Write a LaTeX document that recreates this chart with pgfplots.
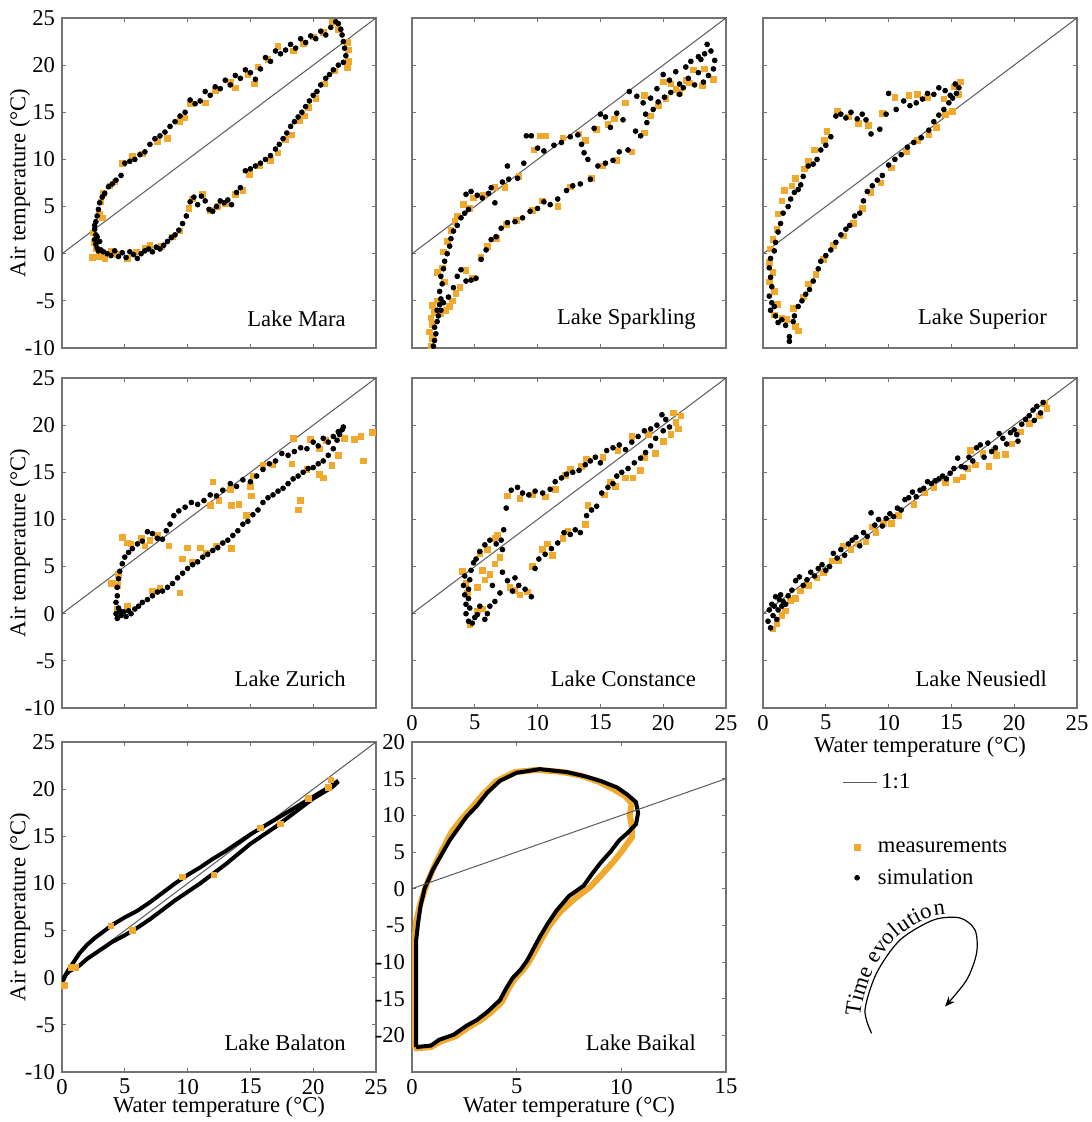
\documentclass[border=0pt]{standalone}
\usepackage{fontspec}
\setmainfont{Liberation Serif}
\usepackage{pgfplots}
\pgfplotsset{compat=1.18}
\usetikzlibrary{decorations.text, arrows.meta}
\definecolor{morange}{RGB}{240,168,45}
\definecolor{axgray}{RGB}{115,115,115}
\definecolor{linegray}{RGB}{90,90,90}
\newcommand{\fs}{\fontsize{11.3}{13.5}\selectfont}
\pgfplotsset{
 panel/.style={scale only axis, width=157pt, height=165pt, anchor=south west,
  xmin=0,xmax=25,ymin=-10,ymax=25, xtick={0,5,...,25}, ytick={-10,-5,...,25},
  tick align=inside, major tick length=2.2pt,
  axis line style={axgray, line width=0.6pt},
  every tick/.style={axgray, line width=0.5pt},
  /pgf/number format/assume math mode=true,
  tick label style={font=\fs},
  ylabel={Air temperature (°C)}, xlabel={Water temperature (°C)},
  every axis y label/.style={at={(axis description cs:-0.134,0.5)}, rotate=90, anchor=center, font=\fs},
  every axis x label/.style={at={(axis description cs:0.5,-0.106)}, anchor=center, font=\fs},
 },
 noX/.style={xticklabels={,,}, xlabel={}},
 noY/.style={yticklabels={,,}, ylabel={}},
 meas/.style={only marks, mark=square*, mark size=1.4pt, color=morange, forget plot},
 sim/.style={only marks, mark=*, mark size=1.2pt, color=black, forget plot},
 oneone/.style={linegray, line width=0.5pt, forget plot},
}
\newcommand{\lake}[1]{\node[anchor=east, font=\fs, inner sep=0pt] at (rel axis cs:0.905,0.088) {#1};}
\begin{document}
\begin{tikzpicture}[x=1pt,y=1pt]
% ---------------- Lake Mara
\begin{axis}[panel, noX, at={(31pt,387pt)}]
\addplot[meas] coordinates {(2.4,-0.4)(2.7,0.5)(3.0,-0.3)(3.4,-0.5)(3.9,0.3)(4.4,-0.1)(5.2,-0.5)(5.9,0.2)(6.6,0.6)(7.0,0.9)(7.9,0.8)(8.8,1.8)(9.4,2.4)(10.1,4.8)(10.4,5.8)(11.2,6.3)(11.8,4.6)(12.4,5.0)(13.0,5.3)(13.8,6.3)(14.4,6.7)(14.9,8.4)(15.7,9.3)(16.6,9.9)(17.2,10.7)(17.8,12.1)(18.3,12.6)(18.9,14.1)(19.3,14.6)(19.6,15.5)(20.2,16.5)(20.9,18.0)(21.7,19.4)(22.7,19.7)(22.8,20.4)(22.8,21.6)(22.7,22.4)(22.0,23.8)(21.5,24.5)(20.8,23.5)(20.0,23.0)(19.2,22.3)(18.4,21.5)(17.2,22.0)(16.4,20.6)(15.6,19.8)(14.8,19.0)(15.3,18.0)(13.8,17.6)(13.4,18.2)(12.2,17.3)(11.4,16.0)(10.2,15.9)(9.8,14.4)(9.4,14.0)(8.4,12.2)(7.6,11.9)(6.4,10.6)(5.6,10.3)(4.8,9.6)(4.2,7.6)(3.8,7.2)(3.3,6.4)(3.1,5.5)(3.2,3.8)(3.0,4.2)(2.5,2.2)(2.6,1.2)};
\addplot[sim] coordinates {(2.6,2.6)(2.7,2.0)(2.6,1.5)(2.7,1.0)(2.8,0.6)(2.9,0.3)(3.0,1.3)(2.8,1.8)(3.1,0.4)(3.3,0.2)(3.6,0.0)(3.9,-0.2)(4.2,0.3)(4.5,-0.3)(4.8,0.1)(5.1,-0.4)(5.4,0.2)(5.7,-0.1)(6.0,-0.5)(6.3,0.0)(6.6,0.3)(6.9,0.5)(7.2,0.2)(7.5,0.7)(7.8,0.5)(8.1,0.9)(8.4,1.3)(8.7,1.7)(9.0,2.0)(9.3,2.5)(9.6,3.2)(9.9,4.0)(10.2,5.5)(10.5,6.0)(10.8,5.2)(11.1,6.1)(11.4,5.6)(11.7,4.7)(12.0,4.5)(12.3,5.0)(12.6,5.6)(12.9,5.4)(13.2,5.7)(13.5,5.2)(13.9,6.5)(14.2,7.0)(14.6,8.8)(15.0,9.0)(15.4,9.3)(15.8,9.6)(16.2,10.0)(16.6,10.4)(17.0,11.1)(17.3,11.6)(17.6,12.2)(17.9,12.8)(18.2,13.5)(18.5,14.0)(18.8,14.5)(19.1,15.0)(19.4,15.6)(19.7,16.2)(20.0,16.8)(20.3,17.2)(20.6,17.9)(21.0,18.6)(21.3,19.0)(21.6,19.5)(22.0,20.0)(22.4,20.3)(22.6,21.0)(22.5,21.8)(22.4,22.5)(22.3,23.2)(22.2,23.8)(22.0,24.4)(21.8,24.6)(21.4,24.0)(21.0,23.2)(20.6,23.6)(20.2,22.8)(19.8,23.1)(19.4,22.4)(19.0,22.8)(18.6,21.8)(18.2,22.2)(17.8,21.6)(17.4,21.2)(17.0,21.5)(16.6,20.4)(16.2,20.8)(15.8,19.6)(15.4,18.5)(15.0,19.2)(14.6,19.5)(14.2,18.6)(13.8,18.9)(13.4,17.9)(13.0,18.4)(12.6,17.5)(12.2,17.7)(11.8,16.8)(11.4,17.2)(11.0,16.2)(10.6,15.9)(10.2,16.3)(9.8,15.0)(9.4,14.6)(9.0,14.0)(8.6,13.5)(8.2,12.9)(7.8,12.5)(7.4,12.2)(7.0,11.6)(6.6,10.8)(6.2,10.5)(5.8,10.0)(5.4,9.8)(5.0,9.6)(4.7,8.3)(4.3,7.8)(4.0,7.4)(3.7,7.1)(3.4,6.4)(3.2,6.0)(3.0,5.4)(2.9,4.7)(2.8,4.0)(2.7,3.4)(2.6,3.0)};
\addplot[oneone] coordinates {(0,0)(25,25)};
\lake{Lake Mara}
\end{axis}
% ---------------- Lake Sparkling
\begin{axis}[panel, noX, noY, at={(206pt,387pt)}]
\addplot[meas] coordinates {(1.5,-9.8)(1.6,-9.0)(1.4,-8.3)(1.6,-7.5)(1.5,-6.8)(1.8,-6.2)(1.6,-5.5)(2.0,-5.0)(2.3,-6.4)(2.7,-6.0)(3.0,-5.6)(3.2,-5.0)(3.5,-4.2)(3.8,-3.6)(4.3,-1.8)(4.8,-2.6)(5.5,-0.4)(6.0,0.8)(6.7,1.6)(7.5,3.1)(8.3,3.5)(9.6,4.6)(10.4,5.6)(11.6,5.0)(12.6,7.1)(14.3,8.0)(15.2,9.3)(16.3,9.9)(17.5,10.8)(18.5,12.8)(19.0,14.6)(19.6,15.7)(20.2,16.5)(20.6,18.0)(21.3,17.1)(21.8,18.4)(22.4,19.5)(23.3,19.6)(24.0,18.5)(23.1,17.8)(22.1,18.1)(21.0,17.4)(20.0,18.2)(18.5,16.8)(17.0,16.0)(16.1,14.3)(15.6,13.7)(14.7,13.2)(13.8,12.0)(13.3,12.7)(12.0,12.3)(10.6,12.5)(10.2,12.5)(9.7,11.0)(8.5,8.2)(7.4,7.0)(6.6,7.0)(5.7,6.2)(4.9,5.9)(4.6,4.8)(4.1,5.2)(3.6,4.0)(3.4,3.4)(3.1,2.5)(2.8,1.3)(2.5,0.2)(2.4,-1.5)(2.6,-3.0)(2.0,-2.0)};
\addplot[sim] coordinates {(1.7,-9.8)(1.8,-9.2)(1.9,-8.5)(1.8,-7.8)(2.0,-7.2)(2.1,-6.6)(2.0,-6.0)(2.2,-5.4)(2.3,-4.8)(2.2,-4.0)(2.4,-3.2)(2.3,-2.4)(2.5,-1.6)(2.6,-0.8)(2.8,0.0)(3.0,0.8)(3.1,1.6)(3.3,2.4)(3.6,3.0)(3.9,3.8)(4.2,4.3)(4.5,4.7)(4.3,6.3)(4.7,6.6)(5.2,6.2)(5.6,5.9)(6.1,6.4)(6.6,5.4)(6.3,7.0)(7.2,7.6)(7.7,7.9)(7.6,9.3)(8.4,8.0)(8.9,9.6)(9.1,12.5)(9.5,12.5)(10.0,11.2)(10.5,10.9)(11.3,11.5)(11.9,11.8)(12.6,12.4)(13.2,12.6)(13.5,11.6)(13.7,10.7)(14.0,10.0)(14.5,13.3)(15.0,14.8)(15.4,14.5)(15.8,13.4)(16.3,14.9)(16.8,14.2)(17.3,17.2)(17.9,16.7)(18.4,16.0)(19.0,16.5)(19.5,17.5)(20.0,19.0)(20.5,18.4)(21.0,19.3)(21.3,18.0)(21.8,19.8)(22.2,20.4)(22.5,17.9)(22.8,19.2)(23.0,20.6)(23.3,21.2)(23.5,22.2)(23.8,21.5)(24.1,20.5)(24.0,19.6)(23.6,18.9)(23.2,18.2)(22.8,20.9)(22.0,18.6)(21.6,17.6)(21.3,16.9)(20.6,17.1)(20.1,16.6)(19.6,16.1)(19.2,15.3)(18.6,14.8)(18.2,12.5)(18.7,13.9)(17.8,13.0)(17.2,11.0)(16.5,10.8)(16.0,9.9)(15.4,9.6)(14.8,9.3)(14.2,7.9)(13.4,7.4)(12.8,7.2)(12.3,6.7)(11.6,5.8)(11.0,5.2)(10.5,5.5)(10.0,4.8)(9.4,4.5)(8.8,3.8)(8.2,3.4)(7.6,3.3)(7.1,2.7)(6.7,1.8)(6.3,1.5)(5.9,0.4)(5.5,-0.6)(5.1,-2.6)(4.7,-2.8)(4.3,-2.9)(3.9,-1.7)(3.6,-2.4)(3.3,-3.6)(2.9,-4.6)(2.5,-5.2)(2.3,-6.0)};
\addplot[oneone] coordinates {(0,0)(25,25)};
\lake{Lake Sparkling}
\end{axis}
% ---------------- Lake Superior
\begin{axis}[panel, noX, noY, at={(381.5pt,387pt)}]
\addplot[meas] coordinates {(0.5,-0.9)(0.8,-2.0)(0.5,-3.0)(0.9,-4.0)(1.2,-5.4)(0.9,-6.5)(1.5,-6.8)(1.9,-7.0)(2.6,-7.7)(2.8,-8.2)(2.4,-5.8)(3.2,-4.6)(3.6,-3.2)(4.2,-2.2)(4.8,-0.6)(5.6,0.9)(6.4,1.9)(7.2,3.2)(7.9,4.8)(8.6,6.5)(9.4,7.5)(10.2,9.1)(11.4,10.8)(12.3,12.0)(13.2,12.6)(13.8,13.4)(14.5,14.8)(15.1,15.1)(15.6,16.9)(15.7,18.2)(15.2,17.7)(14.4,16.4)(13.1,16.6)(12.3,16.9)(11.6,16.8)(10.5,16.6)(9.5,14.9)(8.4,13.6)(7.6,13.8)(6.8,14.5)(5.9,15.1)(5.1,13.0)(4.9,12.0)(4.1,11.0)(3.6,9.8)(3.3,9.0)(2.6,8.0)(2.3,7.2)(1.7,6.7)(1.5,5.6)(1.2,4.2)(1.1,2.6)(0.8,1.5)(0.6,0.5)};
\addplot[sim] coordinates {(0.6,-0.5)(0.5,-1.5)(0.6,-2.5)(0.7,-3.5)(0.5,-4.5)(0.7,-5.2)(0.6,-6.0)(0.9,-5.6)(1.0,-6.6)(1.2,-7.3)(1.5,-7.0)(1.8,-7.6)(2.1,-8.8)(2.1,-9.3)(2.4,-7.2)(2.5,-6.6)(2.8,-5.6)(3.1,-5.0)(3.4,-4.3)(3.7,-3.8)(4.0,-2.9)(4.4,-1.6)(4.6,-0.8)(5.0,-0.2)(5.4,0.4)(5.8,1.2)(6.2,2.0)(6.6,2.6)(6.9,3.0)(7.3,4.0)(7.7,4.3)(8.0,5.6)(8.3,6.6)(8.7,7.2)(9.1,7.8)(9.5,8.3)(10.0,9.4)(10.5,10.0)(11.0,10.5)(11.5,11.3)(12.0,11.8)(12.6,12.3)(13.2,13.1)(13.6,14.0)(14.0,14.7)(14.4,15.3)(14.8,16.0)(15.1,16.5)(15.4,17.0)(15.6,17.6)(15.3,18.0)(14.9,16.8)(14.5,17.3)(14.0,17.6)(13.6,16.9)(13.1,17.0)(12.7,16.4)(12.2,16.0)(11.7,15.7)(11.2,16.2)(10.6,15.3)(10.0,17.0)(9.8,14.8)(9.3,13.2)(8.6,12.7)(8.2,14.2)(7.9,14.8)(7.5,14.3)(7.0,15.0)(6.6,14.4)(6.2,14.8)(5.8,14.6)(5.4,12.4)(5.0,11.5)(4.6,11.0)(4.3,10.0)(4.0,9.5)(3.6,9.3)(3.2,8.2)(3.0,7.3)(2.8,6.8)(2.5,6.5)(2.2,5.8)(2.0,5.0)(1.6,4.3)(1.4,3.2)(1.2,2.3)(1.0,1.2)(0.9,0.3)};
\addplot[oneone] coordinates {(0,0)(25,25)};
\lake{Lake Superior}
\end{axis}
% ---------------- Lake Zurich
\begin{axis}[panel, noX, at={(31pt,207pt)}]
\addplot[meas] coordinates {(4.0,3.2)(4.5,4.2)(4.8,8.1)(5.2,7.5)(5.5,7.4)(6.3,8.0)(6.6,7.2)(7.0,7.8)(8.5,7.2)(9.6,5.8)(10.4,5.5)(10.0,7.0)(11.0,7.0)(11.5,6.4)(12.3,7.2)(13.5,6.9)(7.2,2.4)(7.8,2.7)(5.2,0.8)(4.4,0.5)(4.4,3.0)(9.4,2.2)(11.8,11.5)(12.5,12.0)(13.4,13.2)(13.5,11.5)(14.1,11.6)(14.7,10.4)(15.1,12.5)(15.0,13.5)(16.0,15.7)(16.8,15.8)(18.3,15.9)(18.4,18.6)(18.8,11.0)(19.0,12.0)(19.5,15.3)(20.5,14.8)(20.8,14.4)(21.5,15.7)(22.0,16.8)(22.5,18.6)(23.3,18.5)(24.0,16.2)(24.7,19.2)(23.8,18.8)(21.0,18.4)(19.8,18.5)(20.5,17.5)(12.0,14.0)(15.2,14.6)(7.6,8.3)(3.9,3.2)};
\addplot[sim] coordinates {(4.3,0.0)(4.4,-0.5)(4.5,0.6)(4.3,1.2)(4.4,1.9)(4.6,0.3)(4.7,-0.2)(4.9,0.2)(5.1,-0.3)(5.3,0.3)(5.5,0.0)(5.8,0.5)(6.1,0.8)(6.4,1.2)(6.8,1.5)(7.2,1.9)(7.6,2.3)(8.0,2.4)(8.4,2.8)(8.8,3.2)(9.2,3.8)(9.6,4.3)(10.0,4.8)(10.4,5.2)(10.8,5.5)(11.2,6.0)(11.6,6.3)(12.0,6.7)(12.4,7.0)(12.8,7.5)(13.2,7.8)(13.6,8.3)(14.0,8.8)(14.4,9.5)(14.8,9.8)(15.2,10.5)(15.6,11.0)(16.0,11.8)(16.4,12.3)(16.8,12.6)(17.2,13.0)(17.6,13.3)(18.0,13.8)(18.4,14.3)(18.8,14.6)(19.2,15.0)(19.6,15.4)(20.0,15.5)(20.4,15.9)(20.8,16.2)(21.2,16.8)(21.6,17.5)(21.9,18.4)(22.1,19.0)(22.3,19.5)(22.4,19.8)(22.0,19.3)(21.6,18.8)(21.2,18.2)(20.8,18.6)(20.4,17.8)(20.0,18.2)(19.5,17.5)(19.0,17.6)(18.5,17.2)(18.0,16.8)(17.5,17.0)(17.0,16.2)(16.5,15.9)(16.0,15.3)(15.5,14.6)(15.0,14.0)(14.4,14.2)(13.9,13.5)(13.4,13.8)(12.8,13.1)(12.3,12.5)(11.8,12.6)(11.3,12.0)(10.8,11.6)(10.3,11.8)(9.8,11.3)(9.3,10.9)(8.9,10.4)(8.6,9.5)(8.3,8.8)(8.0,7.9)(7.6,8.0)(7.2,8.5)(6.8,8.7)(6.4,7.7)(6.0,7.4)(5.6,6.9)(5.3,6.5)(5.0,6.0)(4.8,5.3)(4.6,4.5)(4.5,3.7)(4.4,2.8)};
\addplot[oneone] coordinates {(0,0)(25,25)};
\lake{Lake Zurich}
\end{axis}
% ---------------- Lake Constance
\begin{axis}[panel, noY, xlabel={}, at={(206pt,207pt)}]
\addplot[meas] coordinates {(4.0,4.5)(4.3,3.2)(4.4,2.2)(4.6,-1.2)(5.2,0.3)(5.6,0.5)(5.2,2.8)(5.6,4.6)(5.8,3.6)(5.4,6.4)(6.0,6.8)(6.8,8.3)(7.0,6.0)(7.8,2.8)(8.2,2.5)(8.6,2.0)(6.2,4.2)(6.6,5.3)(9.2,2.3)(9.6,5.0)(10.4,6.8)(11.2,6.2)(10.8,7.4)(12.0,8.0)(12.4,8.7)(13.8,9.5)(14.0,11.5)(15.3,12.6)(15.8,14.0)(16.2,13.5)(17.0,14.4)(17.6,14.4)(18.2,15.2)(18.5,16.6)(19.4,17.0)(20.0,18.3)(20.6,19.0)(21.0,20.3)(21.2,19.6)(21.4,21.0)(20.8,21.3)(18.8,19.0)(17.5,18.8)(16.4,17.3)(15.2,16.6)(13.9,16.4)(13.5,15.6)(12.6,15.3)(12.2,14.7)(11.4,13.2)(10.6,12.4)(9.6,12.6)(8.6,12.2)(7.6,12.5)(6.6,8.0)};
\addplot[sim] coordinates {(4.2,4.0)(4.1,3.0)(4.2,2.0)(4.3,1.0)(4.3,0.0)(4.5,-0.8)(4.8,-1.0)(5.0,-0.4)(4.6,0.6)(4.5,1.6)(4.5,2.6)(4.6,3.6)(4.7,4.6)(4.9,5.4)(5.1,5.8)(5.4,6.6)(5.8,7.3)(6.2,7.8)(6.7,7.4)(7.1,7.8)(7.2,6.8)(7.3,8.9)(7.5,11.2)(7.9,13.1)(8.4,13.4)(8.8,12.8)(9.3,12.6)(9.8,13.0)(10.4,12.8)(11.0,13.2)(11.4,14.0)(11.9,14.4)(12.3,14.8)(12.8,15.0)(13.3,15.2)(13.8,15.8)(14.2,16.2)(14.6,16.6)(15.0,16.0)(15.5,17.3)(16.0,17.6)(16.5,17.9)(17.0,17.4)(17.5,18.2)(18.0,18.8)(18.5,19.4)(19.0,19.6)(19.5,20.0)(19.9,21.1)(20.2,20.6)(20.5,19.8)(20.0,19.4)(19.4,18.6)(19.0,17.8)(18.6,17.1)(18.2,16.5)(17.7,16.0)(17.2,15.4)(16.7,15.0)(16.3,14.6)(16.0,13.8)(15.6,13.4)(15.1,12.8)(14.7,11.4)(14.3,11.0)(13.9,10.4)(13.4,8.6)(13.0,8.9)(12.6,8.4)(12.1,8.6)(11.6,7.5)(11.1,6.9)(10.6,6.3)(10.1,5.8)(9.8,4.8)(9.5,1.8)(9.0,2.6)(8.5,3.0)(8.0,2.4)(7.6,3.5)(7.2,4.4)(7.0,2.2)(6.6,1.3)(6.2,0.8)(6.0,0.0)(5.8,-0.6)(5.4,0.8)(5.2,-0.1)(6.4,3.0)(8.2,3.8)};
\addplot[oneone] coordinates {(0,0)(25,25)};
\lake{Lake Constance}
\end{axis}
% ---------------- Lake Neusiedl (also holds the marker legend)
\begin{axis}[panel, noY, at={(381.5pt,207pt)},
  every axis x label/.style={at={(axis description cs:0.5,-0.117)}, anchor=center, font=\fs},
  legend style={at={(axis description cs:0.2895,-0.471)}, anchor=west, draw=none, fill=none, font=\fs, inner sep=0pt, row sep=2.5pt, column sep=7pt},
  legend cell align=left]
\addlegendimage{only marks, mark=square*, mark size=1.4pt, color=morange}
\addlegendentry{measurements}
\addlegendimage{only marks, mark=*, mark size=1.2pt, black}
\addlegendentry{simulation}
\addplot[meas] coordinates {(0.8,-1.6)(1.1,-1.0)(1.5,-0.2)(1.8,0.3)(2.2,1.4)(2.6,1.6)(3.0,2.4)(3.6,3.0)(4.3,3.8)(4.8,4.4)(5.5,5.6)(6.0,5.6)(6.4,7.2)(7.0,6.8)(7.6,7.4)(8.2,7.6)(8.7,9.2)(9.0,8.6)(9.6,9.6)(10.2,9.6)(10.8,10.4)(12.0,11.6)(12.9,12.8)(13.6,13.4)(14.5,13.9)(15.4,14.2)(15.9,14.5)(16.3,15.4)(16.9,15.8)(17.5,17.0)(18.0,15.6)(18.6,16.8)(19.3,16.9)(19.8,18.0)(20.5,19.3)(21.2,20.2)(22.0,21.0)(22.6,21.8)(22.4,22.3)(18.4,17.3)(16.5,17.3)};
\addplot[sim] coordinates {(0.4,-0.8)(0.5,0.4)(0.6,-1.5)(0.7,1.0)(0.8,-0.2)(0.9,0.8)(1.0,1.8)(1.1,-0.6)(1.2,0.4)(1.3,1.5)(1.4,2.0)(1.5,0.8)(1.6,1.3)(1.8,1.0)(2.0,1.9)(2.3,2.5)(2.6,3.5)(2.9,3.9)(3.2,3.0)(3.5,3.6)(3.8,4.4)(4.1,4.0)(4.4,4.8)(4.7,5.2)(5.0,4.6)(5.3,5.0)(5.6,6.4)(5.9,5.9)(6.2,6.8)(6.5,6.2)(6.8,7.4)(7.1,7.8)(7.4,8.1)(7.7,7.2)(8.0,8.6)(8.3,8.2)(8.6,10.7)(8.9,9.4)(9.2,10.0)(9.5,9.3)(9.8,10.1)(10.1,10.6)(10.4,10.3)(10.7,11.2)(11.0,11.0)(11.3,12.1)(11.6,12.3)(11.9,12.9)(12.2,12.4)(12.5,13.1)(12.8,13.3)(13.1,14.0)(13.4,13.8)(13.7,14.1)(14.0,14.3)(14.3,14.6)(14.6,14.3)(14.9,14.9)(15.2,15.4)(15.5,16.5)(15.8,15.6)(16.1,15.5)(16.4,16.6)(16.7,16.2)(17.0,17.6)(17.3,17.9)(17.6,16.6)(17.9,18.1)(18.2,17.2)(18.5,17.6)(18.8,19.1)(19.1,18.6)(19.4,18.0)(19.7,19.2)(20.0,19.5)(20.3,18.3)(20.6,20.1)(20.9,20.6)(21.2,21.0)(21.5,21.6)(21.8,22.0)(22.1,21.3)(22.3,22.4)(21.6,20.5)(20.2,19.0)};
\addplot[oneone] coordinates {(0,0)(25,25)};
\lake{Lake Neusiedl}
\end{axis}
% ---------------- Lake Balaton
\begin{axis}[panel, at={(31pt,25pt)}]
\addplot[oneone] coordinates {(0,0)(25,25)};
\addplot[black, line width=2pt, forget plot] coordinates {(0.0,-0.5)(0.2,0.1)(0.5,0.8)(0.9,1.6)(1.4,2.6)(2.0,3.5)(2.6,4.2)(3.3,4.9)(4.0,5.6)(5.0,6.4)(6.0,7.1)(7.0,8.0)(8.0,9.0)(9.0,10.0)(10.0,10.9)(11.0,11.7)(12.0,12.6)(13.0,13.4)(14.0,14.3)(15.0,15.2)(16.0,16.0)(17.0,16.8)(18.0,17.6)(19.0,18.4)(20.0,19.2)(21.0,20.0)(21.6,20.5)(22.0,20.9)};
\addplot[black, line width=2pt, forget plot] coordinates {(22.0,20.8)(21.5,20.2)(21.0,19.8)(20.0,19.0)(19.0,18.0)(18.0,17.0)(17.0,16.0)(16.0,15.1)(15.0,14.2)(14.0,13.1)(13.0,12.0)(12.0,11.0)(11.0,10.0)(10.0,9.1)(9.0,8.2)(8.0,7.2)(7.0,6.2)(6.0,5.3)(5.0,4.5)(4.0,3.8)(3.0,2.9)(2.0,2.0)(1.4,1.3)(1.0,1.0)(0.6,0.7)(0.3,0.3)(0.1,-0.3)};
\addplot[meas] coordinates {(0.2,-0.8)(0.7,1.1)(1.1,1.1)(3.9,5.5)(5.6,5.0)(9.6,10.7)(12.1,10.9)(15.8,15.9)(17.4,16.3)(19.6,19.0)(21.2,20.2)(21.4,21.0)};
\lake{Lake Balaton}
\end{axis}
% ---------------- Lake Baikal (also holds the 1:1 legend)
\begin{axis}[panel, ylabel={}, at={(206pt,25pt)}, xmax=15, ymin=-25, ymax=20, xtick={0,5,10,15}, ytick={-20,-15,...,20},
  legend style={at={(axis description cs:1.369,0.876)}, anchor=west, draw=none, fill=none, font=\fs, inner sep=0pt},
  legend cell align=left]
\addlegendimage{linegray, line width=0.5pt}
\addlegendentry{1:1}
\addplot[morange, line width=3pt, forget plot] coordinates {(0.1,-21.8)(0.9,-21.6)(1.4,-20.8)(2.1,-20.1)(2.7,-18.9)(3.3,-17.9)(3.8,-16.8)(4.3,-15.4)(4.6,-13.7)(4.9,-12.3)(5.3,-11.1)(5.6,-9.9)(5.9,-8.4)(6.2,-6.8)(6.6,-4.9)(7.1,-3.1)(7.8,-1.3)(8.5,0.2)(9.0,1.7)(9.6,3.6)(10.1,5.4)(10.5,7.0)(10.5,8.6)(10.4,10.0)(10.5,11.6)(10.2,12.6)(9.6,13.6)(8.9,14.6)(8.1,15.4)(7.2,15.9)(6.0,16.2)(4.9,15.9)(4.0,14.6)(3.4,12.9)(2.9,11.2)(2.4,9.6)(1.9,7.8)(1.5,5.6)(1.1,3.3)(0.7,0.6)(0.4,-2.0)(0.2,-4.5)(0.1,-8.0)(0.1,-13.0)(0.1,-18.0)(0.1,-21.8)};
\addplot[black, line width=2pt, forget plot] coordinates {(0.2,-21.6)(0.9,-21.4)(1.3,-20.6)(2.0,-19.9)(2.6,-18.7)(3.1,-17.9)(3.6,-16.8)(4.2,-15.2)(4.5,-13.6)(4.8,-12.2)(5.2,-11.0)(5.5,-9.8)(5.8,-8.2)(6.1,-6.6)(6.5,-4.7)(6.9,-3.0)(7.5,-1.0)(8.2,0.4)(8.6,2.0)(9.0,3.5)(9.5,5.1)(9.9,6.6)(10.3,7.6)(10.7,8.8)(10.8,10.3)(10.7,11.8)(10.3,12.8)(9.8,13.8)(9.0,14.7)(8.3,15.3)(7.4,15.9)(6.1,16.3)(5.0,15.8)(4.2,14.7)(3.6,13.1)(3.1,11.3)(2.6,9.8)(2.2,8.2)(1.8,6.6)(1.4,4.6)(1.0,2.6)(0.6,0.0)(0.4,-2.5)(0.3,-4.5)(0.2,-7.0)(0.2,-10.2)(0.2,-14.0)(0.2,-18.0)(0.2,-21.6)};
\addplot[oneone] coordinates {(0,0)(15,15)};
\lake{Lake Baikal}
\end{axis}
% ---------------- Time evolution arrow
\draw[line width=0.6pt, -{Stealth[length=5pt,width=4pt]}] plot[smooth] coordinates {(435.8,44.3)(432.5,56)(438.3,74.5)(450,91)(466.7,101)(480,102)(487.5,96)(488.3,84.5)(483.3,71)(472.5,57.7)};
\path[decorate, decoration={text along path, text={|\fs|Time evolution}, text align=center, raise=2pt}] plot[smooth] coordinates {(433.4,45.5)(432.5,56)(438.3,74.5)(450,91)(466.7,101)(480,102)};
\pgfresetboundingbox
\useasboundingbox (0,0) rectangle (545.5,561);
\end{tikzpicture}
\end{document}
